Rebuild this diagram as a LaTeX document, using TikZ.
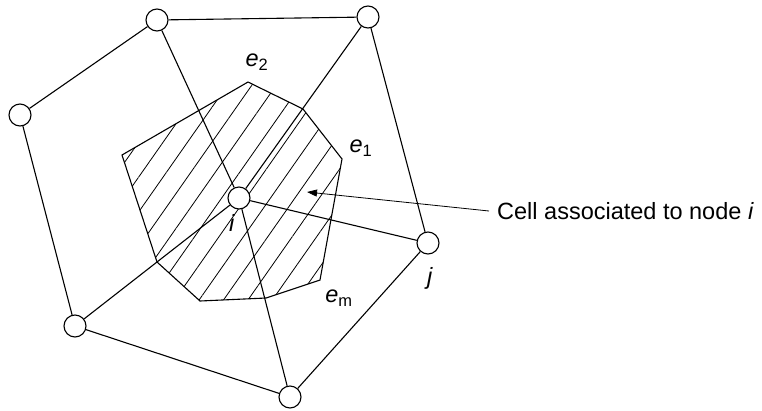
\documentclass[tikz,border=0pt]{standalone}
\usepackage{fontspec}
\setmainfont{Liberation Sans}
\usetikzlibrary{arrows.meta,patterns.meta}
\tikzset{
  vtx/.style={
    circle,
    draw=black,
    fill=white,
    line width=1.1pt,
    minimum size=22pt,
    inner sep=0pt
  },
  meshline/.style={line width=1.1pt},
  cellpoly/.style={
    draw=black,
    line width=1.1pt,
    pattern={Lines[angle=55,distance=20pt,line width=0.8pt]}
  },
  tag/.style={font=\fontsize{23.5}{28}\selectfont, inner sep=0pt},
  callout/.style={-{Triangle[length=10pt,width=7pt]}, line width=0.8pt}
}

\begin{document}
\begin{tikzpicture}[x=1pt,y=-1pt]
  \useasboundingbox (0,0) rectangle (762,410);
  % hatched cell round node i
  \draw[cellpoly] (122,155) -- (248,82) -- (303,109) -- (342,159) -- (320,280)
    -- (266,298) -- (200,301) -- (157,262) -- cycle;
  \node[vtx] (i) at (239,198) {};
  \node[vtx] (tl) at (157,20) {};
  \node[vtx] (tr) at (368,17) {};
  \node[vtx] (lf) at (20,115) {};
  \node[vtx] (bl) at (75,326) {};
  \node[vtx] (bt) at (290,397) {};
  \node[vtx] (j) at (428,243) {};
  \draw[meshline] (tl) -- (tr) -- (j) -- (bt) -- (bl) -- (lf) -- (tl);
  \draw[meshline] (i) -- (tl);
  \draw[meshline] (i) -- (tr);
  \draw[meshline] (i) -- (j);
  \draw[meshline] (i) -- (bt);
  \draw[meshline] (i) -- (bl);
  % labels
  \node[tag] (e2) at (257,62) {\textit{e}\textsubscript{2}};
  \node[tag] (e1) at (361,148) {\textit{e}\textsubscript{1}};
  \node[tag] (em) at (339,298) {\textit{e}\textsubscript{m}};
  \node[tag] (ilab) at (232,223) {\textit{i}};
  \node[tag] (jlab) at (430,278) {\textit{j}};
  \node[tag, anchor=west, inner xsep=8pt] (cell) at (489,211) {Cell associated to node \textit{i}};
  \coordinate (celltip) at (307,192);
  \draw[callout] (cell.west) -- (celltip);
\end{tikzpicture}
\end{document}
